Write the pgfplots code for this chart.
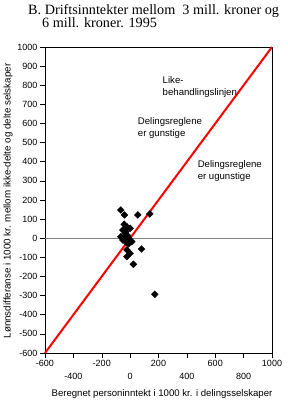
\documentclass[border=0pt]{standalone}
\usepackage{pgfplots}
\pgfplotsset{compat=1.18}
\usepackage{fontspec}
\setmainfont{Liberation Serif}
\newfontfamily\arial{Liberation Sans}
\begin{document}
\begin{tikzpicture}
\useasboundingbox (0,0) rectangle (287pt,401pt);
\begin{axis}[
  at={(45pt,48pt)}, anchor=south west,
  width=227pt, height=306pt, scale only axis,
  xmin=-600, xmax=1000, ymin=-600, ymax=1000,
  xtick={-600,-200,200,600,1000},
  extra x ticks={-400,0,400,800},
  extra x tick style={xticklabel style={yshift=-13pt}, major tick length=5pt},
  minor x tick num=1,
  ytick={-600,-500,...,1000},
  tick align=outside,
  major tick length=5pt, minor tick length=5pt,
  xtick pos=bottom, ytick pos=left,
  tick style={black, line width=0.5pt},
  /pgf/number format/assume math mode=true,
  /pgf/number format/set thousands separator={},
  tick label style={font=\arial\fontsize{9}{10}\selectfont},
  xticklabel style={yshift=1pt},
  yticklabel style={xshift=1pt},
  axis line style={line width=0.6pt},
  clip=false,
]
\addplot[gray, line width=0.6pt, forget plot] coordinates {(-600,0) (1000,0)};
\addplot[red, line width=2pt] coordinates {(-600,-600) (1000,1000)};
\addplot[only marks, mark=square*, mark size=2.4pt, black, every mark/.append style={rotate=45}] coordinates {
(-66,148) (-40,122) (54,122) (139,127) (-42,73) (-23,60) (0,52) (-51,43)
(-35,26) (-66,8) (-42,3) (-51,-9) (-23,-9) (12,-18) (-12,-30) (-23,-61)
(0,-79) (-23,-96) (80,-56) (23,-136) (174,-293) (-30,35) (-20,15) (-10,0) (-30,-20)
};
\node[anchor=west, align=left, font=\arial\fontsize{9.6}{11.8}\selectfont] at (axis cs:205,790) {Like-\\behandlingslinjen};
\node[anchor=west, align=left, font=\arial\fontsize{9.6}{11.8}\selectfont] at (axis cs:30,576) {Delingsreglene\\er gunstige};
\node[anchor=west, align=left, font=\arial\fontsize{9.6}{11.8}\selectfont] at (axis cs:452,352) {Delingsreglene\\er ugunstige};
\end{axis}
\node[anchor=base west, font=\fontsize{14.2}{15}\selectfont, inner sep=0pt] at (28pt,386pt) {B. Driftsinntekter mellom\ \ 3 mill. kroner og};
\node[anchor=base west, font=\fontsize{14.2}{15}\selectfont, inner sep=0pt] at (42pt,373pt) {6 mill. kroner. 1995};
\node[font=\arial\fontsize{9.6}{10}\selectfont, inner sep=0pt] at (162pt,7pt) {Beregnet personinntekt i 1000 kr. i delingsselskaper};
\node[rotate=90, font=\arial\fontsize{9.8}{10}\selectfont, inner sep=0pt] at (8pt,200pt) {Lønnsdifferanse i 1000 kr. mellom ikke-delte og delte selskaper};
\end{tikzpicture}
\end{document}
